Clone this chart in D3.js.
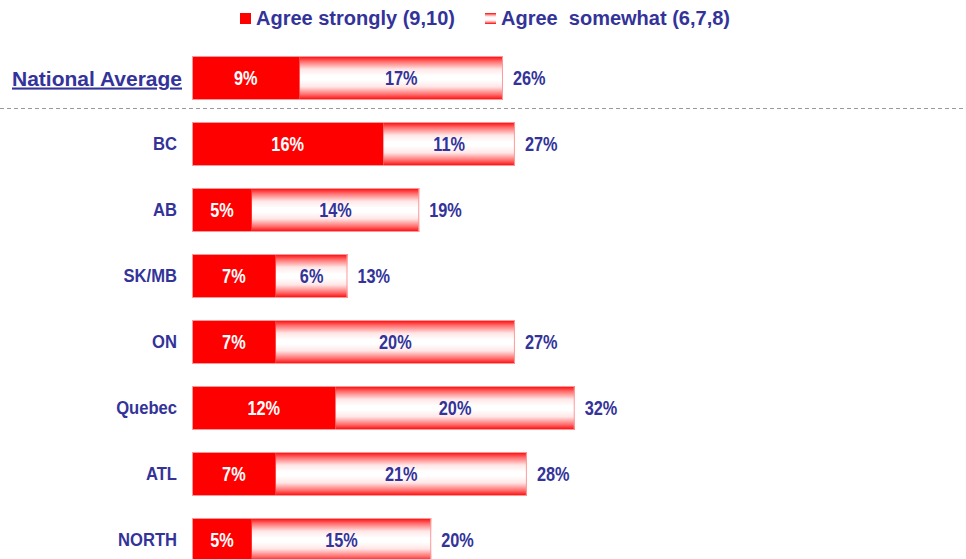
<!DOCTYPE html>
<html>
<head>
<meta charset="utf-8">
<script src="https://cdn.jsdelivr.net/npm/d3@7"></script>
<style>
  html, body { margin: 0; padding: 0; background: #fff; }
  svg { display: block; font-family: Arial, "Liberation Sans", sans-serif; }
</style>
</head>
<body>
<svg id="chart" width="966" height="559"></svg>
<script>
// Share agreeing, by region
const regions = ["National Average", "BC", "AB", "SK/MB", "ON", "Quebec", "ATL", "NORTH"];
const agreeStrongly = [9, 16, 5, 7, 7, 12, 7, 5];
const agreeSomewhat = [17, 11, 14, 6, 20, 20, 21, 15];
const totals = [26, 27, 19, 13, 27, 32, 28, 20];
const legendLabels = ["Agree strongly (9,10)", "Agree\u00a0 somewhat (6,7,8)"];

const navy = "#333399";
const red = "#FF0000";

const svg = d3.select("#chart");

const defs = svg.append("defs");
const grad = defs.append("linearGradient")
  .attr("id", "somewhatGrad").attr("x1", 0).attr("x2", 0).attr("y1", 0).attr("y2", 1);
[[0, "#FF0000"], [0.12, "#FF6A6A"], [0.3, "#FFE6E6"], [0.45, "#FFFFFF"], [0.55, "#FFFFFF"], [0.7, "#FFE6E6"], [0.88, "#FF6A6A"], [1, "#FF0000"]]
  .forEach(([o, c]) => grad.append("stop").attr("offset", o).attr("stop-color", c));

const x = d3.scaleLinear().domain([0, 40]).range([192, 192 + 40 * 11.96]);
const y0 = d3.scalePoint().domain(regions).range([56, 56 + 66 * 7]);
const bh = 44;

// Text drawn slightly stretched vertically
function label(sel, px, py, sy) {
  return sel.append("text")
    .attr("transform", `translate(${px},${py}) scale(1,${sy})`);
}

// Legend
const lg = svg.append("g");
lg.append("rect").attr("x", 240).attr("y", 13).attr("width", 11).attr("height", 11).attr("fill", red);
lg.append("rect").attr("x", 485).attr("y", 13).attr("width", 11).attr("height", 11).attr("fill", "url(#somewhatGrad)");
lg.append("text").attr("x", 256).attr("y", 25).attr("fill", navy).attr("font-weight", "bold").attr("font-size", 20).text(legendLabels[0]);
lg.append("text").attr("x", 501).attr("y", 25).attr("fill", navy).attr("font-weight", "bold").attr("font-size", 20)
  .attr("xml:space", "preserve").text(legendLabels[1]);

// Separator below the national row
svg.append("line").attr("x1", 0).attr("x2", 966).attr("y1", 108.5).attr("y2", 108.5)
  .attr("stroke", "#999").attr("stroke-width", 1).attr("stroke-dasharray", "4,3");

const rows = svg.selectAll("g.row").data(regions).join("g").attr("class", "row")
  .attr("transform", d => `translate(0,${y0(d)})`);

// Agree somewhat segment
rows.append("rect")
  .attr("x", (d, i) => x(agreeStrongly[i]))
  .attr("y", 0).attr("height", bh)
  .attr("width", (d, i) => x(agreeStrongly[i] + agreeSomewhat[i]) - x(agreeStrongly[i]))
  .attr("fill", "url(#somewhatGrad)");

// Agree strongly segment
rows.append("rect")
  .attr("x", x(0)).attr("y", 0).attr("height", bh)
  .attr("width", (d, i) => x(agreeStrongly[i]) - x(0))
  .attr("fill", red);

// Light outline around the whole bar
rows.append("rect")
  .attr("x", x(0) + 0.5).attr("y", 0.5).attr("height", bh - 1)
  .attr("width", (d, i) => x(agreeStrongly[i] + agreeSomewhat[i]) - x(0) - 1)
  .attr("fill", "none").attr("stroke", "#FF9999").attr("stroke-width", 1);

const fs = 16.3, vs = 1.2, base = bh / 2 + 7;
rows.each(function (d, i) {
  const g = d3.select(this);
  label(g, (x(0) + x(agreeStrongly[i])) / 2, base, vs)
    .attr("text-anchor", "middle").attr("fill", "#fff")
    .attr("font-weight", "bold").attr("font-size", fs)
    .text(agreeStrongly[i] + "%");
  label(g, (x(agreeStrongly[i]) + x(agreeStrongly[i] + agreeSomewhat[i])) / 2, base, vs)
    .attr("text-anchor", "middle").attr("fill", navy)
    .attr("font-weight", "bold").attr("font-size", fs)
    .text(agreeSomewhat[i] + "%");
  label(g, x(totals[i]) + 10, base, vs)
    .attr("fill", navy).attr("font-weight", "bold").attr("font-size", fs)
    .text(totals[i] + "%");

  // Region label
  if (i === 0) {
    g.append("text").attr("x", 182).attr("y", bh / 2 + 7.5)
      .attr("text-anchor", "end").attr("fill", navy).attr("font-weight", "bold")
      .attr("font-size", 21).attr("text-decoration", "underline")
      .text(d);
  } else {
    label(g, 177, bh / 2 + 6, 1.1)
      .attr("text-anchor", "end").attr("fill", navy).attr("font-weight", "bold")
      .attr("font-size", 16.6)
      .text(d);
  }
});
</script>
</body>
</html>
